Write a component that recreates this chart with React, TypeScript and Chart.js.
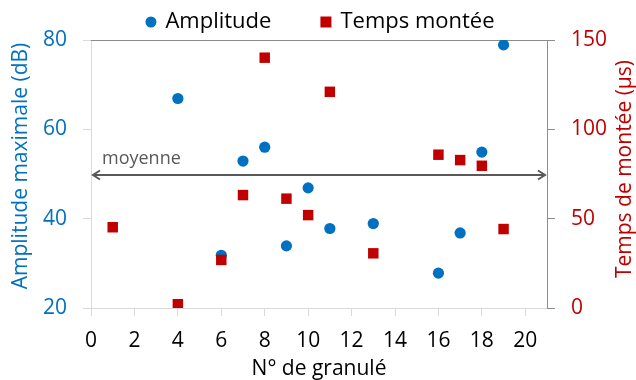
import React, { useEffect, useRef } from 'react';
import { Chart, registerables } from 'chart.js';

Chart.register(...registerables);

// ---- Data ----
const granuleAmplitude = [4, 6, 7, 8, 9, 10, 11, 13, 16, 17, 18, 19];
const amplitude = [66.9, 31.8, 52.9, 56, 33.9, 46.9, 37.8, 38.9, 27.8, 36.8, 54.9, 78.9];
const granuleTemps = [1, 4, 6, 7, 8, 9, 10, 11, 13, 16, 17, 18, 19];
const tempsMontee = [45.2, 2.1, 26.9, 63.2, 140.1, 61.2, 52, 121, 30.6, 85.8, 82.8, 79.6, 44.2];
const xTicks = [0, 2, 4, 6, 8, 10, 12, 14, 16, 18, 20];
const moyenne = 49.7;
const moyenneLabel = 'moyenne';
const seriesNames = ['Amplitude', 'Temps montée'];
const xTitle = 'N° de granulé';
const yTitle = 'Amplitude maximale (dB)';
const y1Title = 'Temps de montée (µs)';

const BLUE = '#0070C0';
const RED = '#C00000';
const FONT = '"Open Sans", sans-serif';

function drawVerticalTitle(ctx: any, text: string, color: string, cx: number, cy: number) {
  ctx.save();
  ctx.translate(cx, cy);
  ctx.rotate(-Math.PI / 2);
  ctx.textAlign = 'center';
  ctx.textBaseline = 'middle';
  ctx.fillStyle = color;
  ctx.font = `21px ${FONT}`;
  ctx.fillText(text, 0, 0);
  ctx.restore();
}

const legendPlugin = {
  id: 'customLegend',
  afterDraw(chart: any) {
    const ctx = chart.ctx;
    ctx.save();
    ctx.font = `22px ${FONT}`;
    ctx.textBaseline = 'middle';
    ctx.textAlign = 'left';
    const marker = 11;
    const gapText = 9;
    const gapItem = 49;
    const items = chart.data.datasets.map((ds: any) => ({
      label: ds.label,
      color: ds.backgroundColor,
      style: ds.pointStyle,
      w: ctx.measureText(ds.label).width,
    }));
    const total =
      items.reduce((s: number, it: any) => s + marker + gapText + it.w, 0) + gapItem * (items.length - 1);
    let x = chart.width / 2 - total / 2 + 2;
    const y = 22;
    items.forEach((it: any) => {
      ctx.fillStyle = it.color;
      if (it.style === 'circle') {
        ctx.beginPath();
        ctx.arc(x + marker / 2, y, marker / 2, 0, Math.PI * 2);
        ctx.fill();
      } else {
        ctx.fillRect(x, y - marker / 2, marker, marker);
      }
      x += marker + gapText;
      ctx.fillStyle = '#000';
      ctx.fillText(it.label, x, y);
      x += it.w + gapItem;
    });
    ctx.restore();

    // vertical axis titles (both read bottom-to-top)
    const a = chart.chartArea;
    const mid = (a.top + a.bottom) / 2;
    drawVerticalTitle(ctx, yTitle, BLUE, 21, mid - 8);
    drawVerticalTitle(ctx, y1Title, RED, chart.width - 11, mid - 5);
  },
};

const framePlugin = {
  id: 'frameAndMean',
  beforeDatasetsDraw(chart: any) {
    const { ctx, chartArea: a } = chart;
    ctx.save();
    ctx.strokeStyle = '#8c8c8c';
    ctx.lineWidth = 1;
    ctx.beginPath();
    ctx.moveTo(a.left, a.top + 0.5);
    ctx.lineTo(a.right, a.top + 0.5);
    ctx.stroke();
    ctx.restore();
  },
  afterDatasetsDraw(chart: any) {
    const { ctx, chartArea: a, scales } = chart;
    const y = Math.round(scales.y.getPixelForValue(moyenne));
    const x0 = a.left + 2;
    const x1 = a.right - 2;
    ctx.save();
    ctx.strokeStyle = '#595959';
    ctx.lineWidth = 2;
    ctx.beginPath();
    ctx.moveTo(x0, y);
    ctx.lineTo(x1, y);
    ctx.stroke();
    ctx.beginPath();
    ctx.moveTo(x0 + 7, y - 4.5);
    ctx.lineTo(x0, y);
    ctx.lineTo(x0 + 7, y + 4.5);
    ctx.moveTo(x1 - 7, y - 4.5);
    ctx.lineTo(x1, y);
    ctx.lineTo(x1 - 7, y + 4.5);
    ctx.stroke();
    ctx.fillStyle = '#595959';
    ctx.font = `18px ${FONT}`;
    ctx.textBaseline = 'alphabetic';
    ctx.textAlign = 'left';
    ctx.fillText(moyenneLabel, a.left + 11, y - 11);
    ctx.restore();
  },
};

export default function App() {
  const ref = useRef<HTMLCanvasElement>(null);

  useEffect(() => {
    if (!ref.current) return;
    const chart = new Chart(ref.current, {
      type: 'scatter',
      data: {
        datasets: [
          {
            label: seriesNames[0],
            data: granuleAmplitude.map((x, i) => ({ x, y: amplitude[i] })),
            backgroundColor: BLUE,
            borderColor: BLUE,
            borderWidth: 0,
            pointStyle: 'circle',
            pointRadius: 5.6,
            yAxisID: 'y',
            order: 1,
          },
          {
            label: seriesNames[1],
            data: granuleTemps.map((x, i) => ({ x, y: tempsMontee[i] })),
            backgroundColor: RED,
            borderColor: RED,
            borderWidth: 0,
            pointStyle: 'rect',
            pointRadius: 7.4,
            yAxisID: 'y1',
            order: 0,
          },
        ],
      },
      options: {
        responsive: false,
        animation: false,
        layout: { padding: { top: 40, left: 0, right: 0, bottom: 0 } },
        plugins: {
          legend: { display: false },
          tooltip: { enabled: false },
        },
        scales: {
          x: {
            type: 'linear',
            min: 0,
            max: 21,
            afterBuildTicks: (scale: any) => {
              scale.ticks = xTicks.map((v) => ({ value: v }));
            },
            afterFit: (scale: any) => {
              scale.height = 72;
            },
            ticks: {
              color: '#000',
              font: { family: FONT, size: 21 },
              padding: 12,
              maxRotation: 0,
            },
            grid: {
              display: true,
              drawOnChartArea: false,
              drawTicks: true,
              tickLength: 8,
              color: '#d9d9d9',
            },
            border: { display: true, color: '#d9d9d9', width: 1 },
            title: {
              display: true,
              text: xTitle,
              color: '#000',
              font: { family: FONT, size: 21, lineHeight: 1 },
              padding: { top: 0, bottom: 0 },
            },
          },
          y: {
            type: 'linear',
            position: 'left',
            min: 20,
            max: 80,
            afterFit: (scale: any) => {
              scale.width = 91;
            },
            ticks: {
              stepSize: 20,
              color: BLUE,
              font: { family: FONT, size: 21 },
              padding: 16,
            },
            grid: {
              display: true,
              drawOnChartArea: false,
              drawTicks: true,
              tickLength: 8,
              color: '#d9d9d9',
            },
            border: { display: true, color: '#d9d9d9', width: 1 },
            title: { display: false },
          },
          y1: {
            type: 'linear',
            position: 'right',
            min: 0,
            max: 150,
            afterFit: (scale: any) => {
              scale.width = 89;
            },
            ticks: {
              stepSize: 50,
              color: RED,
              font: { family: FONT, size: 21 },
              padding: 16,
            },
            grid: {
              display: true,
              drawOnChartArea: false,
              drawTicks: true,
              tickLength: 8,
              color: '#8c8c8c',
            },
            border: { display: true, color: '#8c8c8c', width: 1 },
            title: { display: false },
          },
        },
      },
      plugins: [framePlugin, legendPlugin],
    } as any);
    return () => chart.destroy();
  }, []);

  return (
    <div style={{ position: 'fixed', left: 0, top: 0, width: 636, height: 380, background: '#fff' }}>
      <canvas ref={ref} width={636} height={380} style={{ display: 'block' }} />
    </div>
  );
}
